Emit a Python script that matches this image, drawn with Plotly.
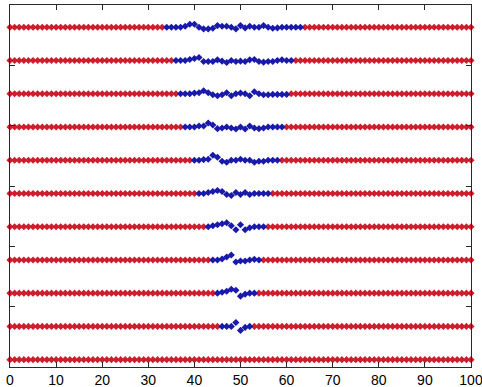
import plotly.graph_objects as go

# ---- data ----
x_values = list(range(0, 101))          # 101 samples per row
row_levels = list(range(0, 11))         # 11 rows, bottom (0) to top (10)

# first x of the blue (perturbed) segment of each row, rows 1..10
blue_start = [46, 45, 44, 43, 41, 40, 38, 37, 36, 34]
# vertical displacement of each blue point (row units), rows 1..10
blue_dy = [
    [0, 0, 0, 0.12, -0.12, -0.03, 0],
    [0, 0.03, 0.06, 0.12, 0.09, -0.09, -0.03, 0, 0],
    [0, 0, 0.03, 0.09, 0.15, -0.06, -0.03, -0.03, 0, 0.02, 0],
    [0, 0.03, 0.06, 0.09, 0.12, 0.03, -0.09, 0.06, -0.09, -0.03, 0, 0, 0],
    [0, 0, 0.03, 0.06, 0.09, 0.06, -0.03, -0.06, 0.03, -0.03, 0.03, -0.03, 0, 0, 0, 0],
    [0, 0, 0.02, 0.03, 0.15, 0.09, -0.03, -0.06, 0, 0, 0.03, 0, 0, -0.06, -0.03, -0.03, 0, 0, 0],
    [0, 0, 0, 0.03, 0.03, 0.12, 0.06, -0.05, -0.03, 0, -0.03, -0.06, 0, -0.06, 0.03, -0.03, -0.05, -0.03, 0, 0, 0, 0],
    [0, 0, 0, 0.02, 0.03, 0.09, 0.03, -0.03, -0.06, -0.03, 0.03, -0.06, 0, 0.02, 0, -0.06, 0.06, 0, -0.03, -0.03, -0.02, -0.02, -0.02, -0.02],
    [0, 0, 0, 0.03, 0.06, 0.09, -0.03, -0.03, -0.03, 0.02, -0.02, -0.06, 0, -0.03, -0.02, -0.03, 0.02, 0.03, -0.03, -0.05, -0.03, -0.03, 0, 0.02, 0, 0],
    [0, 0, 0, 0, 0.03, 0.09, 0.09, 0, -0.05, -0.05, -0.03, 0.05, 0.03, 0.03, 0, -0.05, 0.05, -0.02, 0.03, 0, 0, 0.05, 0, -0.03, -0.02, 0, 0, 0, 0, 0],
]
x_ticks = [0, 10, 20, 30, 40, 50, 60, 70, 80, 90, 100]
y_ticks = [1.595, 3.41, 5.225, 7.04, 8.855]

RED = "rgb(205,30,45)"
BLUE = "rgb(25,25,170)"

red_x, red_y, blue_x, blue_y = [], [], [], []
for r in row_levels:
    if r == 0:
        s, dys = None, []
    else:
        s, dys = blue_start[r - 1], blue_dy[r - 1]
    for xv in x_values:
        if s is not None and s <= xv < s + len(dys):
            blue_x.append(xv)
            blue_y.append(r + dys[xv - s])
        else:
            red_x.append(xv)
            red_y.append(r)

fig = go.Figure()
fig.add_trace(go.Scatter(x=red_x, y=red_y, mode="markers",
                         marker=dict(symbol="diamond", size=5.5, color=RED, line=dict(width=0)),
                         showlegend=False, hoverinfo="skip", cliponaxis=False))
fig.add_trace(go.Scatter(x=blue_x, y=blue_y, mode="markers",
                         marker=dict(symbol="diamond", size=5.5, color=BLUE, line=dict(width=0)),
                         showlegend=False, hoverinfo="skip", cliponaxis=False))

axis_common = dict(showgrid=False, zeroline=False, showline=True, linecolor="#2a2a2a",
                   linewidth=1, mirror="ticks", ticks="inside", ticklen=5,
                   tickcolor="#2a2a2a", automargin=False)
fig.update_xaxes(range=[0, 100], tickvals=x_ticks, ticktext=[str(t) for t in x_ticks],
                 tickfont=dict(family="Liberation Sans, Arial", size=14, color="black"),
                 ticklabeloverflow="allow", **axis_common)
fig.update_yaxes(range=[-0.22, 10.67], tickvals=y_ticks, ticktext=[""] * len(y_ticks),
                 **axis_common)
fig.update_layout(width=482, height=387, margin=dict(l=10, r=11, t=5, b=20),
                  paper_bgcolor="white", plot_bgcolor="white")
fig.write_html("out.html", config={"displayModeBar": False},
               post_script="document.body.style.margin='0';document.body.style.padding='0';")
